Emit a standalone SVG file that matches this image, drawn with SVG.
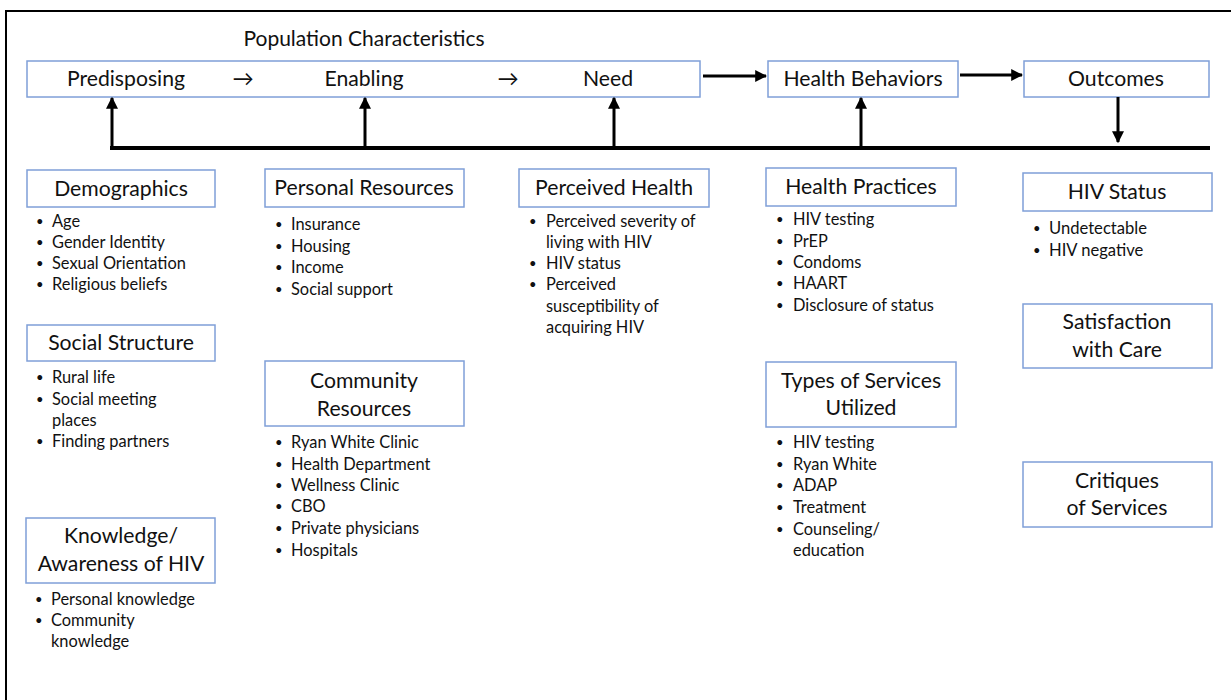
<svg xmlns="http://www.w3.org/2000/svg" width="1231" height="700" viewBox="0 0 1231 700">
  <style>
    text { font-family: Lato, "Open Sans", "Liberation Sans", sans-serif; fill: #111; }
    .box { fill: #fff; stroke: #7f9fd8; stroke-width: 1.5; }
    .title { font-size: 21.2px; text-anchor: middle; }
    .item { font-size: 16.4px; }
    .small { font-size: 16.6px; }
    .item text:nth-child(odd), .small text:nth-child(odd) { }
    .b { font-size: 13px; }
    .head { font-size: 21px; }
    .wire { stroke: #000; stroke-width: 3; fill: none; }
  </style>
  <defs>
    <marker id="arrow" viewBox="0 0 10 10" refX="9" refY="5" markerWidth="4" markerHeight="4" orient="auto-start-reverse" markerUnits="strokeWidth">
      <path d="M0,0 L10,5 L0,10 z" fill="#000"/>
    </marker>
  </defs>

  <rect width="1231" height="700" fill="#fff"/>
  <!-- outer frame (top and left edges) -->
  <path d="M6,700 V11 H1231" fill="none" stroke="#000" stroke-width="2"/>

  <text x="364" y="46" class="head" text-anchor="middle">Population Characteristics</text>

  <!-- population characteristics bar -->
  <g id="population">
    <rect x="27" y="61" width="673" height="36" class="box"/>
    <text x="126" y="86" class="title">Predisposing</text>
    <text x="243" y="86" class="title">→</text>
    <text x="364" y="86" class="title">Enabling</text>
    <text x="508" y="86" class="title">→</text>
    <text x="608" y="86" class="title">Need</text>
  </g>

  <g id="health-behaviors">
    <rect x="768" y="61" width="190" height="36" class="box"/>
    <text x="863" y="86" class="title">Health Behaviors</text>
  </g>

  <g id="outcomes">
    <rect x="1024" y="61" width="185" height="36" class="box"/>
    <text x="1116" y="86" class="title">Outcomes</text>
  </g>

  <!-- connectors -->
  <g id="connectors">
    <line x1="703" y1="76" x2="766" y2="76" class="wire" marker-end="url(#arrow)"/>
    <line x1="960" y1="75" x2="1022" y2="75" class="wire" marker-end="url(#arrow)"/>
    <line x1="1118" y1="97" x2="1118" y2="142" class="wire" marker-end="url(#arrow)"/>
    <line x1="110" y1="148" x2="1210" y2="148" stroke="#000" stroke-width="4"/>
    <line x1="112" y1="148" x2="112" y2="98" class="wire" marker-end="url(#arrow)"/>
    <line x1="365" y1="148" x2="365" y2="98" class="wire" marker-end="url(#arrow)"/>
    <line x1="614" y1="148" x2="614" y2="98" class="wire" marker-end="url(#arrow)"/>
    <line x1="861" y1="148" x2="861" y2="98" class="wire" marker-end="url(#arrow)"/>
  </g>

  <!-- predisposing column -->
  <g id="demographics">
    <rect x="27" y="170" width="188" height="37" class="box"/>
    <text x="121" y="196" class="title">Demographics</text>
    <g class="item">
      <text x="36" y="226" class="b">•</text><text x="52" y="227">Age</text>
      <text x="36" y="247" class="b">•</text><text x="52" y="248">Gender Identity</text>
      <text x="36" y="268" class="b">•</text><text x="52" y="269">Sexual Orientation</text>
      <text x="36" y="289" class="b">•</text><text x="52" y="290">Religious beliefs</text>
    </g>
  </g>

  <g id="social-structure">
    <rect x="27" y="325" width="188" height="36" class="box"/>
    <text x="121" y="350" class="title">Social Structure</text>
    <g class="item">
      <text x="36" y="382" class="b">•</text><text x="52" y="383">Rural life</text>
      <text x="36" y="404" class="b">•</text><text x="52" y="405">Social meeting</text>
      <text x="52" y="426">places</text>
      <text x="36" y="446" class="b">•</text><text x="52" y="447">Finding partners</text>
    </g>
  </g>

  <g id="knowledge">
    <rect x="26" y="518" width="189" height="65" class="box"/>
    <text x="121" y="543" class="title">Knowledge/</text>
    <text x="121" y="571" class="title">Awareness of HIV</text>
    <g class="item">
      <text x="35" y="604" class="b">•</text><text x="51" y="605">Personal knowledge</text>
      <text x="35" y="625" class="b">•</text><text x="51" y="626">Community</text>
      <text x="51" y="647">knowledge</text>
    </g>
  </g>

  <!-- enabling column -->
  <g id="personal-resources">
    <rect x="265" y="169" width="199" height="38" class="box"/>
    <text x="364" y="195" class="title">Personal Resources</text>
    <g class="item">
      <text x="275" y="229" class="b">•</text><text x="291" y="230">Insurance</text>
      <text x="275" y="251" class="b">•</text><text x="291" y="252">Housing</text>
      <text x="275" y="272" class="b">•</text><text x="291" y="273">Income</text>
      <text x="275" y="294" class="b">•</text><text x="291" y="295">Social support</text>
    </g>
  </g>

  <g id="community-resources">
    <rect x="265" y="361" width="199" height="65" class="box"/>
    <text x="364" y="388" class="title">Community</text>
    <text x="364" y="416" class="title">Resources</text>
    <g class="item">
      <text x="275" y="447" class="b">•</text><text x="291" y="448">Ryan White Clinic</text>
      <text x="275" y="469" class="b">•</text><text x="291" y="470">Health Department</text>
      <text x="275" y="490" class="b">•</text><text x="291" y="491">Wellness Clinic</text>
      <text x="275" y="511" class="b">•</text><text x="291" y="512">CBO</text>
      <text x="275" y="533" class="b">•</text><text x="291" y="534">Private physicians</text>
      <text x="275" y="555" class="b">•</text><text x="291" y="556">Hospitals</text>
    </g>
  </g>

  <!-- need column -->
  <g id="perceived-health">
    <rect x="519" y="169" width="190" height="38" class="box"/>
    <text x="614" y="195" class="title">Perceived Health</text>
    <g class="item">
      <text x="529" y="226" class="b">•</text><text x="546" y="227">Perceived severity of</text>
      <text x="546" y="248">living with HIV</text>
      <text x="529" y="268" class="b">•</text><text x="546" y="269">HIV status</text>
      <text x="529" y="289" class="b">•</text><text x="546" y="290">Perceived</text>
      <text x="546" y="312">susceptibility of</text>
      <text x="546" y="333">acquiring HIV</text>
    </g>
  </g>

  <!-- health behaviors column -->
  <g id="health-practices">
    <rect x="766" y="168" width="190" height="38" class="box"/>
    <text x="861" y="194" class="title">Health Practices</text>
    <g class="item">
      <text x="776" y="224" class="b">•</text><text x="793" y="225">HIV testing</text>
      <text x="776" y="246" class="b">•</text><text x="793" y="247">PrEP</text>
      <text x="776" y="267" class="b">•</text><text x="793" y="268">Condoms</text>
      <text x="776" y="288" class="b">•</text><text x="793" y="289">HAART</text>
      <text x="776" y="310" class="b">•</text><text x="793" y="311">Disclosure of status</text>
    </g>
  </g>

  <g id="services-utilized">
    <rect x="766" y="362" width="190" height="65" class="box"/>
    <text x="861" y="388" class="title">Types of Services</text>
    <text x="861" y="415" class="title">Utilized</text>
    <g class="item">
      <text x="776" y="447" class="b">•</text><text x="793" y="448">HIV testing</text>
      <text x="776" y="469" class="b">•</text><text x="793" y="470">Ryan White</text>
      <text x="776" y="490" class="b">•</text><text x="793" y="491">ADAP</text>
      <text x="776" y="512" class="b">•</text><text x="793" y="513">Treatment</text>
      <text x="776" y="534" class="b">•</text><text x="793" y="535">Counseling/</text>
      <text x="793" y="556">education</text>
    </g>
  </g>

  <!-- outcomes column -->
  <g id="hiv-status">
    <rect x="1023" y="173" width="189" height="38" class="box"/>
    <text x="1117" y="199" class="title">HIV Status</text>
    <g class="small">
      <text x="1033" y="233" class="b">•</text><text x="1049" y="234">Undetectable</text>
      <text x="1033" y="255" class="b">•</text><text x="1049" y="256">HIV negative</text>
    </g>
  </g>

  <g id="satisfaction">
    <rect x="1023" y="304" width="189" height="64" class="box"/>
    <text x="1117" y="329" class="title">Satisfaction</text>
    <text x="1117" y="357" class="title">with Care</text>
  </g>

  <g id="critiques">
    <rect x="1023" y="462" width="189" height="65" class="box"/>
    <text x="1117" y="488" class="title">Critiques</text>
    <text x="1117" y="515" class="title">of Services</text>
  </g>
</svg>
